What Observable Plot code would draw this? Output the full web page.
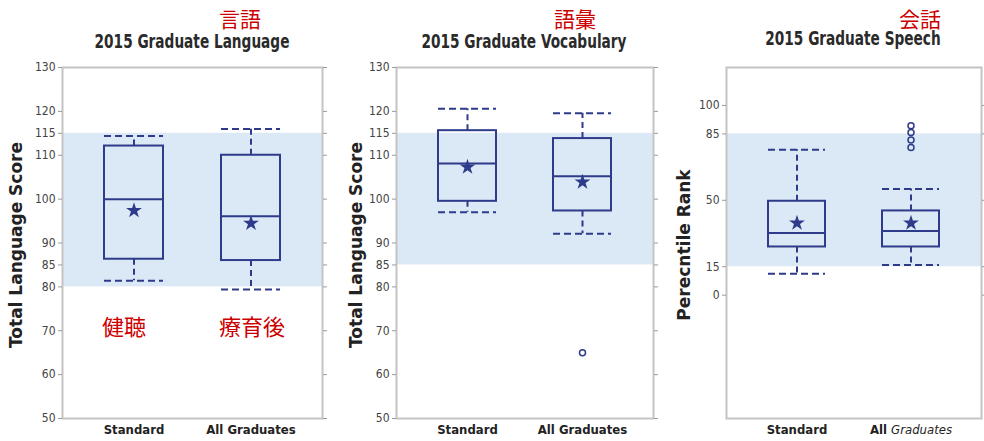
<!DOCTYPE html>
<html>
<head>
<meta charset="utf-8">
<script src="https://cdn.jsdelivr.net/npm/d3@7"></script>
<script src="https://cdn.jsdelivr.net/npm/@observablehq/plot@0.6"></script>
<style>
  html, body { margin: 0; padding: 0; background: #fff; }
  #wrap { position: relative; width: 984px; height: 441px; overflow: hidden; }
  .panel { position: absolute; top: 0; }
  .title { position: absolute; font-family: "DejaVu Sans Condensed", "DejaVu Sans", sans-serif;
           font-weight: bold; font-size: 20px; line-height: 18px; color: #2a2a2a; white-space: nowrap;
           transform: translateX(-50%) scaleX(0.76); }
  .jp { position: absolute; font-family: "Noto Sans CJK JP", sans-serif; font-size: 21px; line-height: 20px;
        color: #cc0000; white-space: nowrap; transform: translateX(-50%); }
</style>
</head>
<body>
<div id="wrap"></div>
<script>
// ---------- data ----------
const groups = ["Standard", "All Graduates"];

// Panel 1: 2015 Graduate Language (Total Language Score)
const langLo   = [81.4, 79.4];
const langQ1   = [86.3, 86.0];
const langMed  = [100.0, 96.1];
const langQ3   = [112.1, 110.0];
const langHi   = [114.4, 116.0];
const langMean = [97.4, 94.5];
const langOutliers = [];
const langBand = [80, 115];
const langTicks = [50, 60, 70, 80, 85, 90, 100, 110, 115, 120, 130];

// Panel 2: 2015 Graduate Vocabulary (Total Language Score)
const vocLo   = [97.0, 92.1];
const vocQ1   = [99.5, 97.3];
const vocMed  = [108.1, 105.2];
const vocQ3   = [115.6, 113.8];
const vocHi   = [120.6, 119.6];
const vocMean = [107.3, 103.9];
const vocOutliers = [{group: "All Graduates", value: 65}];
const vocBand = [85, 115];
const vocTicks = [50, 60, 70, 80, 85, 90, 100, 110, 115, 120, 130];

// Panel 3: 2015 Graduate Speech (Percentile Rank)
const spLo   = [11.3, 15.9];
const spQ1   = [25.4, 25.4];
const spMed  = [32.8, 33.8];
const spQ3   = [49.5, 44.4];
const spHi   = [76.6, 56.0];
const spMean = [38.0, 38.0];
const spOutliers = [
  {group: "All Graduates", value: 89.3},
  {group: "All Graduates", value: 85.8},
  {group: "All Graduates", value: 81.8},
  {group: "All Graduates", value: 77.9}
];
const spBand = [15, 85];
const spTicks = [0, 15, 50, 85, 100];

const titles = ["2015 Graduate Language", "2015 Graduate Vocabulary", "2015 Graduate Speech"];
const jpTitles = ["言語", "語彙", "会話"];
const jpGroupNotes = [{group: "Standard", text: "健聴"}, {group: "All Graduates", text: "療育後"}];

// ---------- drawing ----------
const navy = "#2e3b8a";
const bandFill = "#dbe9f6";
const tickFont = '"DejaVu Sans Condensed", "DejaVu Sans", sans-serif';

function rowsOf(lo, q1, med, q3, hi, mean) {
  return groups.map((g, i) => ({group: g, lo: lo[i], q1: q1[i], med: med[i], q3: q3[i], hi: hi[i], mean: mean[i]}));
}

function panel({rows, outliers, band, domain, ticks, label, labelDx, width, marginLeft, marginRight, extra = []}) {
  return Plot.plot({
    width, height: 441,
    marginLeft, marginRight, marginTop: 67, marginBottom: 23,
    style: {fontFamily: tickFont, fontSize: "12px", color: "#444", background: "transparent", overflow: "visible"},
    x: {domain: groups, paddingInner: 0.5, paddingOuter: 0.36, label: null},
    y: {domain, label: null},
    marks: [
      Plot.rect([{y1: band[0], y2: band[1]}], {y1: "y1", y2: "y2", fill: bandFill}),
      Plot.frame({stroke: "#c4c4c4", strokeWidth: 2}),
      Plot.axisY(ticks, {tickSize: 4, tickPadding: 3, label: null, stroke: "#9a9a9a"}),
      Plot.axisY(ticks, {anchor: "right", tickSize: 4, tickFormat: () => "", label: null, stroke: "#9a9a9a"}),
      Plot.axisX({tickSize: 0, tickPadding: 6, fontWeight: "bold", fontSize: 13, label: null, fill: "#222"}),
      Plot.ruleX(rows, {x: "group", y1: "q3", y2: "hi", stroke: navy, strokeWidth: 2, strokeDasharray: "6,4"}),
      Plot.ruleX(rows, {x: "group", y1: "q1", y2: "lo", stroke: navy, strokeWidth: 2, strokeDasharray: "6,4"}),
      Plot.tickY(rows, {x: "group", y: "hi", stroke: navy, strokeWidth: 2, strokeDasharray: "7,4"}),
      Plot.tickY(rows, {x: "group", y: "lo", stroke: navy, strokeWidth: 2, strokeDasharray: "7,4"}),
      Plot.barY(rows, {x: "group", y1: "q1", y2: "q3", fill: "none", stroke: navy, strokeWidth: 2}),
      Plot.tickY(rows, {x: "group", y: "med", stroke: navy, strokeWidth: 2}),
      Plot.dot(rows, {x: "group", y: "mean", symbol: "star", fill: navy, r: 5}),
      Plot.dot(outliers, {x: "group", y: "value", stroke: navy, strokeWidth: 1.5, r: 3, fill: "none"}),
      Plot.text([label], {text: d => d, frameAnchor: "left", textAnchor: "middle", rotate: -90, dx: labelDx, dy: 2,
        fontFamily: '"DejaVu Sans", sans-serif', fontWeight: "bold", fontSize: 17, fill: "#222"}),
      ...extra
    ]
  });
}

const wrap = document.getElementById("wrap");

const noteStyle = {x: "group", y: 70.7, text: "text", fontFamily: '"Noto Sans CJK JP", sans-serif', fontSize: 22, fill: "#cc0000"};
const p1 = panel({
  rows: rowsOf(langLo, langQ1, langMed, langQ3, langHi, langMean), outliers: langOutliers,
  band: langBand, domain: [50, 130], ticks: langTicks, label: "Total Language Score", labelDx: -46,
  width: 330, marginLeft: 62, marginRight: 8,
  extra: [
    Plot.text(jpGroupNotes.filter(d => d.group === "Standard"), {...noteStyle, dx: -10}),
    Plot.text(jpGroupNotes.filter(d => d.group === "All Graduates"), {...noteStyle, dx: 1})
  ]
});
const p2 = panel({
  rows: rowsOf(vocLo, vocQ1, vocMed, vocQ3, vocHi, vocMean), outliers: vocOutliers,
  band: vocBand, domain: [50, 130], ticks: vocTicks, label: "Total Language Score", labelDx: -40,
  width: 320, marginLeft: 56, marginRight: 7
});
const p3 = panel({
  rows: rowsOf(spLo, spQ1, spMed, spQ3, spHi, spMean), outliers: spOutliers,
  band: spBand, domain: [-65, 120], ticks: spTicks, label: "Perecntile Rank", labelDx: -42,
  width: 314, marginLeft: 56, marginRight: 3
});

// italic "Graduates" on the third panel's category label
d3.select(p3).selectAll("text").filter(function() { return this.textContent === "All Graduates"; })
  .each(function() {
    const t = d3.select(this);
    t.text("All ");
    t.append("tspan").attr("font-style", "italic").attr("font-weight", "normal").text("Graduates");
  });

[[p1, 0], [p2, 340], [p3, 670]].forEach(([svg, left]) => {
  const div = document.createElement("div");
  div.className = "panel";
  div.style.left = left + "px";
  div.appendChild(svg);
  wrap.appendChild(div);
});

const titlePos = [[192, 32], [524, 32], [853, 29]];
const jpPos = [[240, 8], [575, 8], [920, 8]];
titles.forEach((t, i) => {
  const d = document.createElement("div");
  d.className = "title"; d.textContent = t;
  d.style.left = titlePos[i][0] + "px"; d.style.top = titlePos[i][1] + "px";
  wrap.appendChild(d);
});
jpTitles.forEach((t, i) => {
  const d = document.createElement("div");
  d.className = "jp"; d.textContent = t;
  d.style.left = jpPos[i][0] + "px"; d.style.top = jpPos[i][1] + "px";
  wrap.appendChild(d);
});
</script>
</body>
</html>
